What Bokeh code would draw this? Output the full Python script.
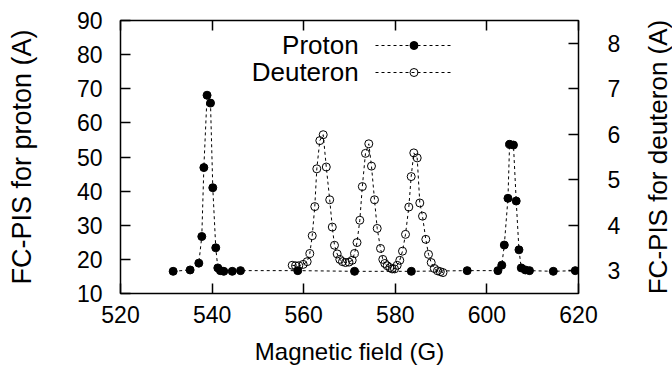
from bokeh.plotting import figure
from bokeh.layouts import row
from bokeh.models import (LinearAxis, Range1d, FixedTicker, Legend, LegendItem, Label)
from bokeh.embed import file_html
from bokeh.resources import INLINE

# ---- data ----
proton_field = [531.5, 535.2, 537.1, 537.75, 538.2, 538.9, 539.65, 540.15, 540.8, 541.25,
                541.8, 542.55, 544.4, 546.2, 558.7, 571.1, 583.5, 595.7, 602.4, 603.25,
                603.8, 604.6, 604.95, 605.8, 606.4, 607.0, 607.5, 608.4, 609.3, 614.5, 619.3]
proton_current = [16.5, 16.9, 18.9, 26.7, 46.9, 68.1, 65.8, 41.0, 23.4, 17.5,
                  16.7, 16.5, 16.5, 16.7, 16.7, 16.5, 16.5, 16.7, 16.7, 18.3,
                  24.2, 37.9, 53.7, 53.5, 37.1, 22.8, 17.5, 16.9, 16.7, 16.5, 16.7]

deuteron_field = [557.49, 558.21, 558.93, 559.89, 560.76, 561.33, 561.86, 562.42, 562.86, 563.52,
                  564.26, 564.93, 565.68, 566.24, 566.72, 567.31, 567.88, 568.47, 569.13, 569.89,
                  570.59, 571.09, 571.64, 572.25, 572.80, 573.49, 574.21, 574.80, 575.46, 576.05,
                  576.77, 577.27, 577.71, 578.23, 578.80, 579.32, 579.83, 580.41, 580.98, 581.57,
                  582.23, 582.95, 583.47, 584.04, 584.78, 585.35, 585.94, 586.66, 587.25, 587.84,
                  588.52, 589.21, 589.83, 590.41]
deuteron_current = [3.12, 3.11, 3.11, 3.14, 3.20, 3.38, 3.77, 4.41, 5.24, 5.86,
                    5.99, 5.28, 4.56, 3.96, 3.56, 3.37, 3.25, 3.20, 3.18, 3.19,
                    3.23, 3.38, 3.62, 4.11, 4.85, 5.58, 5.79, 5.30, 4.56, 3.93,
                    3.49, 3.25, 3.16, 3.11, 3.07, 3.04, 3.04, 3.12, 3.23, 3.43,
                    3.80, 4.40, 5.07, 5.59, 5.48, 4.49, 4.20, 3.69, 3.36, 3.18,
                    3.05, 3.00, 2.98, 2.96]

x_ticks = [520, 540, 560, 580, 600, 620]
left_ticks = [10, 20, 30, 40, 50, 60, 70, 80, 90]
right_ticks = [3, 4, 5, 6, 7, 8]

FONT = "Liberation Sans"
TICK_SIZE = "23px"
TITLE_SIZE = "24px"
YTITLE_SIZE = "27px"
RTITLE_SIZE = "26px"

TITLE_W = 30   # narrow strip that holds the right-hand axis title

p = figure(width=672 - TITLE_W, height=379, output_backend="svg", toolbar_location=None,
           x_range=Range1d(520, 620), y_range=Range1d(10, 90),
           min_border_left=120, min_border_right=94 - TITLE_W, min_border_top=20,
           min_border_bottom=86)
p.extra_y_ranges = {"deut": Range1d(2.5, 8.5)}
p.xgrid.visible = False
p.ygrid.visible = False
p.outline_line_color = "black"
p.outline_line_width = 1.5
p.background_fill_color = "white"
p.border_fill_color = "white"

def style_axis(ax, ticks):
    ax.ticker = FixedTicker(ticks=ticks)
    ax.axis_line_color = None
    ax.major_tick_in = 10
    ax.major_tick_out = 0
    ax.major_tick_line_color = "black"
    ax.major_tick_line_width = 1.5
    ax.minor_tick_line_color = None
    ax.major_label_text_font = FONT
    ax.major_label_text_font_size = TICK_SIZE
    ax.major_label_text_color = "black"
    ax.axis_label_text_font = FONT
    ax.axis_label_text_font_size = TITLE_SIZE
    ax.axis_label_text_font_style = "normal"
    ax.axis_label_text_color = "black"

style_axis(p.xaxis[0], x_ticks)
p.xaxis[0].axis_label = "Magnetic field (G)"
p.xaxis[0].major_label_standoff = 12
p.xaxis[0].axis_label_standoff = 12

style_axis(p.yaxis[0], left_ticks)
p.yaxis[0].axis_label = "FC-PIS for proton (A)"
p.yaxis[0].axis_label_text_font_size = YTITLE_SIZE
p.yaxis[0].major_label_standoff = 18
p.yaxis[0].axis_label_standoff = 37

top_axis = LinearAxis()
style_axis(top_axis, x_ticks)
top_axis.major_label_overrides = {t: "" for t in x_ticks}
top_axis.major_label_standoff = 0
p.add_layout(top_axis, "above")

right_axis = LinearAxis(y_range_name="deut")
style_axis(right_axis, right_ticks)
right_axis.major_label_standoff = 29
p.add_layout(right_axis, "right")

# proton
pl = p.line(proton_field, proton_current, line_color="black", line_width=1, line_dash="3 3")
ps = p.scatter(proton_field, proton_current, marker="circle", size=8,
               fill_color="black", line_color="black")
# deuteron
dl = p.line(deuteron_field, deuteron_current, y_range_name="deut",
            line_color="black", line_width=1, line_dash="3 3")
ds = p.scatter(deuteron_field, deuteron_current, y_range_name="deut", marker="circle", size=8,
               fill_color=None, line_color="black", line_width=1)

legend = Legend(items=[LegendItem(label=" ", renderers=[pl, ps]),
                       LegendItem(label=" ", renderers=[dl, ds])],
                location=(255, 211), padding=0, margin=0, spacing=7,
                glyph_width=77, glyph_height=20, label_width=0, label_standoff=0,
                label_height=20, border_line_color=None, background_fill_alpha=0)
p.add_layout(legend)

for txt, yv in [("Proton", 82.7), ("Deuteron", 74.8)]:
    p.add_layout(Label(x=572, y=yv, text=txt, text_align="right", text_baseline="middle",
                       text_font=FONT, text_font_size="26px", text_color="black"))

# strip for the right-hand axis title (reads bottom to top, like the reference);
# the row aligns its frame with the main plot's frame, so centre it in that frame
t = figure(width=TITLE_W, height=379, output_backend="svg", toolbar_location=None,
           x_range=Range1d(0, 1), y_range=Range1d(0, 1),
           x_axis_location=None, y_axis_location=None,
           min_border_left=0, min_border_right=0, min_border_top=0, min_border_bottom=0)
t.xgrid.visible = False
t.ygrid.visible = False
t.outline_line_color = None
t.background_fill_color = "white"
t.border_fill_color = "white"
t.add_layout(Label(x=0.5, y=0.5, text="FC-PIS for deuteron (A)", angle=90, angle_units="deg",
                   text_align="center", text_baseline="middle",
                   text_font=FONT, text_font_size=RTITLE_SIZE, text_color="black"))

layout = row(p, t, spacing=0)
open("out.html", "w").write(file_html(layout, INLINE))
